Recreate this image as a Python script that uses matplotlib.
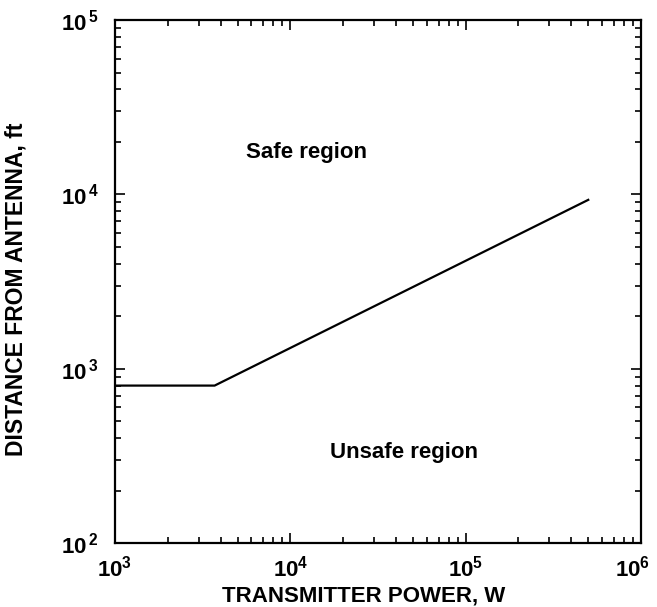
import numpy as np
import matplotlib
matplotlib.use('Agg')
import matplotlib.pyplot as plt
import matplotlib.transforms as mtransforms

# boundary between safe and unsafe zones
power_w = [1e3, 3.7e3, 5e5]
distance_ft = [800, 800, 9300]

x_ticks = [1e3, 1e4, 1e5, 1e6]
y_ticks = [1e2, 1e3, 1e4, 1e5]
x_ticklabels = [r'$10^{3}$', r'$10^{4}$', r'$10^{5}$', r'$10^{6}$']
y_ticklabels = [r'$10^{\,2}$', r'$10^{\,3}$', r'$10^{\,4}$', r'$10^{\,5}$']

plt.rcParams['font.family'] = ['Liberation Sans', 'DejaVu Sans']
plt.rcParams['font.weight'] = 'bold'
plt.rcParams['mathtext.fontset'] = 'custom'
plt.rcParams['mathtext.rm'] = 'Liberation Sans:bold'
plt.rcParams['mathtext.it'] = 'Liberation Sans:bold'
plt.rcParams['mathtext.bf'] = 'Liberation Sans:bold'
plt.rcParams['mathtext.default'] = 'rm'

fig = plt.figure(figsize=(6.57, 6.07), dpi=100)
ax = fig.add_axes([0.175, 0.1054, 0.8007, 0.8616])

ax.plot(power_w, distance_ft, color='black', lw=1.6)

ax.set_xscale('log')
ax.set_yscale('log')
ax.set_xlim(1e3, 1e6)
ax.set_ylim(1e2, 1e5)
ax.set_xticks(x_ticks)
ax.set_xticklabels(x_ticklabels, fontsize=16)
ax.set_yticks(y_ticks)
ax.set_yticklabels(y_ticklabels, fontsize=16)

ax.tick_params(which='both', direction='in', top=True, right=True, width=1.2)
ax.tick_params(which='major', length=7)
ax.tick_params(axis='x', which='major', pad=9)
ax.tick_params(axis='y', which='major', pad=12)
ax.tick_params(which='minor', length=4)
for s in ax.spines.values():
    s.set_linewidth(1.6)

# nudge the last x tick label left so it stays inside the figure
# (after tick_params, which resets label transforms)
last = ax.xaxis.get_major_ticks()[-1].label1
shift = mtransforms.ScaledTranslation(-6 / 72, 0, fig.dpi_scale_trans)
last.set_transform(last.get_transform() + shift)

ax.text(1.23e4, 1.74e4, 'Safe region', fontsize=16, fontweight='bold', ha='center', va='center')
ax.text(4.46e4, 330, 'Unsafe region', fontsize=16, fontweight='bold', ha='center', va='center')

ax.set_xlabel('TRANSMITTER POWER, W', fontsize=16, fontweight='bold')
ax.set_ylabel('DISTANCE FROM ANTENNA, ft', fontsize=16.5, fontweight='bold')
ax.xaxis.set_label_coords(0.473, -0.082)
ax.yaxis.set_label_coords(-0.167, 0.486)

plt.savefig('out.png', dpi=100)
